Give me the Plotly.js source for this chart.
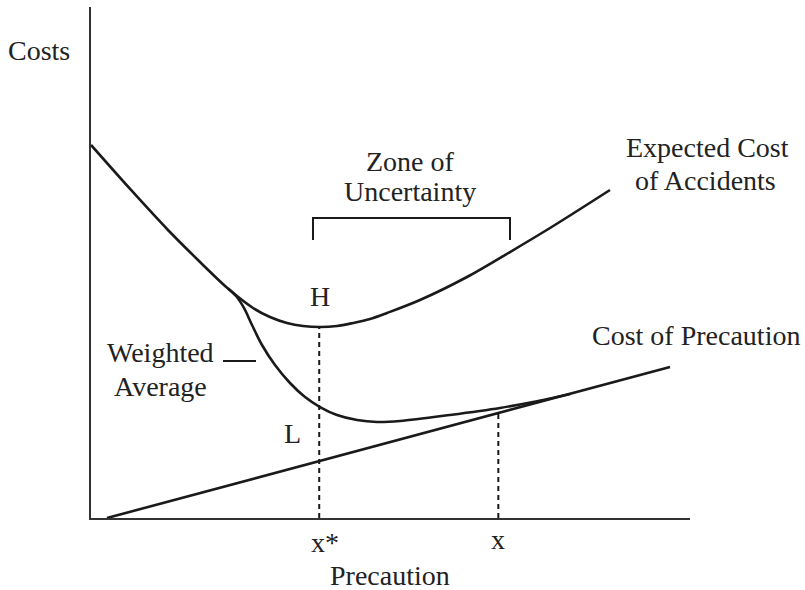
<!DOCTYPE html>
<html>
<head>
<meta charset="utf-8">
<script src="https://cdn.plot.ly/plotly-3.0.1.min.js"></script>
<style>html,body{margin:0;padding:0;background:#fff}#chart{width:805px;height:590px}</style>
</head>
<body>
<div id="chart"></div>
<script>
// Expected cost of accidents (curve)
const ecX = [0, 0.668, 1.285, 1.820, 2.287, 2.705, 2.988, 3.272, 3.539, 3.823, 4.107, 4.374, 4.658, 4.942, 5.492, 6.277, 6.995, 7.663, 8.664];
const ecY = [7.300, 6.419, 5.636, 5.010, 4.490, 4.110, 3.933, 3.816, 3.757, 3.738, 3.757, 3.816, 3.894, 4.012, 4.266, 4.716, 5.205, 5.675, 6.419];
// Weighted average curve
const waX = [2.287, 2.421, 2.554, 2.688, 2.855, 3.072, 3.322, 3.573, 3.823, 4.107, 4.441, 4.775, 5.159, 5.993, 6.828, 7.379, 7.997];
const waY = [4.490, 4.344, 4.110, 3.777, 3.386, 2.994, 2.642, 2.368, 2.172, 2.016, 1.918, 1.879, 1.898, 2.016, 2.153, 2.270, 2.427];
// Cost of precaution (straight line)
const cpX = [0.267, 9.666];
const cpY = [0, 2.955];
// Dashed reference lines at x* and x
const dashX = [3.81, 6.80];
const dashTop = [3.74, 2.05];
// Zone of uncertainty bracket
const zoneX = [3.706, 6.995];
const zoneY = [5.44, 5.87];
// Pointer dash for "Weighted Average"
const wtX = [2.204, 2.755];
const wtY = 3.07;

const ink = '#1a1a1a';
const font = {family: 'Liberation Serif, Times New Roman, serif', size: 28, color: '#222'};

const traces = [
  {x: ecX, y: ecY, mode: 'lines', line: {color: ink, width: 2.6, shape: 'spline', smoothing: 0.9}},
  {x: waX, y: waY, mode: 'lines', line: {color: ink, width: 2.6, shape: 'spline', smoothing: 0.9}},
  {x: cpX, y: cpY, mode: 'lines', line: {color: ink, width: 2.6}},
  {x: [dashX[0], dashX[0]], y: [0, dashTop[0]], mode: 'lines', line: {color: ink, width: 2, dash: '5px,4px'}},
  {x: [dashX[1], dashX[1]], y: [0, dashTop[1]], mode: 'lines', line: {color: ink, width: 2, dash: '5px,4px'}},
  {x: [zoneX[0], zoneX[0], zoneX[1], zoneX[1]], y: [zoneY[0], zoneY[1], zoneY[1], zoneY[0]], mode: 'lines', line: {color: ink, width: 2}},
  {x: wtX, y: [wtY, wtY], mode: 'lines', line: {color: ink, width: 2}}
];
traces.forEach(t => { t.type = 'scatter'; t.hoverinfo = 'skip'; t.showlegend = false; t.cliponaxis = false; });

const ann = (x, y, text) => ({x, y, xref: 'paper', yref: 'paper', text, showarrow: false, font, xanchor: 'center', yanchor: 'middle'});

const layout = {
  width: 805, height: 590,
  margin: {l: 91, r: 115, t: 7, b: 72, pad: 0},
  paper_bgcolor: '#fff', plot_bgcolor: '#fff',
  showlegend: false,
  xaxis: {range: [0, 10], showgrid: false, zeroline: false, showticklabels: false, ticks: '', showline: true, linecolor: '#333', linewidth: 2, fixedrange: true},
  yaxis: {range: [0, 10], showgrid: false, zeroline: false, showticklabels: false, ticks: '', showline: true, linecolor: '#333', linewidth: 2, fixedrange: true},
  annotations: [
    ann(-0.0868, 0.9139, 'Costs'),
    ann(0.5326, 0.6986, 'Zone of'),
    ann(0.5326, 0.6380, 'Uncertainty'),
    ann(1.0284, 0.7241, 'Expected Cost'),
    ann(1.0267, 0.6614, 'of Accidents'),
    ann(1.0092, 0.3562, 'Cost of Precaution'),
    ann(0.3823, 0.4325, 'H'),
    ann(0.3372, 0.1663, 'L'),
    ann(0.1152, 0.3229, 'Weighted'),
    ann(0.1152, 0.2583, 'Average'),
    ann(0.3907, -0.047, 'x*'),
    ann(0.6794, -0.043, 'x'),
    ann(0.4992, -0.1135, 'Precaution')
  ]
};

Plotly.newPlot('chart', traces, layout, {staticPlot: true, displayModeBar: false});
</script>
</body>
</html>
